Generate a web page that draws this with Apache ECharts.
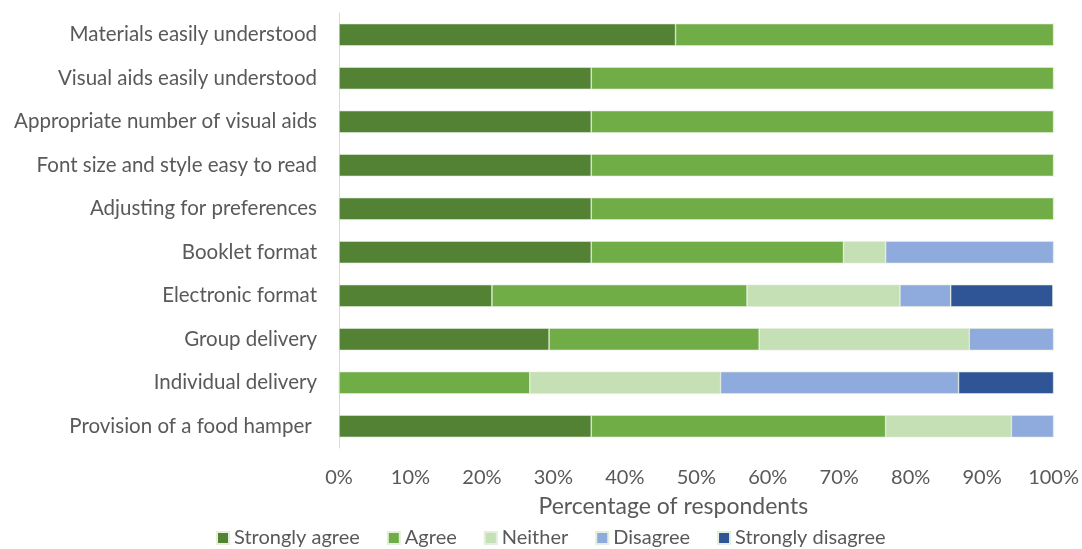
<!DOCTYPE html>
<html>
<head>
<meta charset="utf-8">
<script src="https://cdn.jsdelivr.net/npm/echarts@6/dist/echarts.min.js"></script>
<style>
  html, body { margin: 0; padding: 0; background: #fff; }
  #chart { width: 1082px; height: 549px; }
</style>
</head>
<body>
<div id="chart"></div>
<script>
// Survey items, listed top to bottom
const categories = [
  'Materials easily understood',
  'Visual aids easily understood',
  'Appropriate number of visual aids',
  'Font size and style easy to read',
  'Adjusting for preferences',
  'Booklet format',
  'Electronic format',
  'Group delivery',
  'Individual delivery',
  'Provision of a food hamper '
];

// Percentage of respondents per response option (same order as categories)
const stronglyAgree    = [47.1, 35.3, 35.3, 35.3, 35.3, 35.3, 21.4, 29.4, 0,    35.3];
const agree            = [52.9, 64.7, 64.7, 64.7, 64.7, 35.3, 35.7, 29.4, 26.7, 41.2];
const neither          = [0,    0,    0,    0,    0,    5.9,  21.4, 29.4, 26.7, 17.6];
const disagree         = [0,    0,    0,    0,    0,    23.5, 7.1,  11.8, 33.3, 5.9];
const stronglyDisagree = [0,    0,    0,    0,    0,    0,    14.3, 0,    13.3, 0];

const seriesNames = ['Strongly agree', 'Agree', 'Neither', 'Disagree', 'Strongly disagree'];
const seriesData = [stronglyAgree, agree, neither, disagree, stronglyDisagree];
const seriesColors = ['#548235', '#70AD47', '#C5E0B4', '#8FAADC', '#2F5597'];

const xTicks = [0, 10, 20, 30, 40, 50, 60, 70, 80, 90, 100];

const FONT = 'Lato, "Open Sans", sans-serif';

const chart = echarts.init(document.getElementById('chart'));
chart.setOption({
  animation: false,
  textStyle: { fontFamily: FONT },
  grid: { left: 339, right: 28, top: 13, bottom: 101, containLabel: false },
  xAxis: {
    type: 'value',
    min: xTicks[0],
    max: xTicks[xTicks.length - 1],
    interval: 10,
    name: 'Percentage of respondents',
    nameLocation: 'middle',
    nameGap: 47,
    nameTextStyle: { fontSize: 23, color: '#595959', fontFamily: FONT, padding: [0, 46, 0, 0] },
    axisLine: { show: false },
    axisTick: { show: false },
    splitLine: { show: false },
    axisLabel: {
      fontSize: 20, color: '#595959', margin: 20, fontFamily: FONT,
      formatter: v => v + '%'
    }
  },
  yAxis: {
    type: 'category',
    data: categories,
    inverse: true,
    axisLine: { show: true, lineStyle: { color: '#D9D9D9', width: 1 } },
    axisTick: { show: false },
    axisLabel: { fontSize: 20.5, color: '#595959', margin: 22, fontFamily: FONT }
  },
  legend: {
    top: 523,
    left: 211,
    itemWidth: 12,
    itemHeight: 12,
    itemGap: 27,
    icon: 'rect',
    textStyle: { fontSize: 20, color: '#595959', fontFamily: FONT },
    data: seriesNames
  },
  series: seriesNames.map((name, i) => ({
    name: name,
    type: 'bar',
    stack: 'total',
    barWidth: '51%',
    data: seriesData[i],
    itemStyle: { color: seriesColors[i], borderColor: '#E2EFDA', borderWidth: 0.6 }
  }))
});
</script>
</body>
</html>
